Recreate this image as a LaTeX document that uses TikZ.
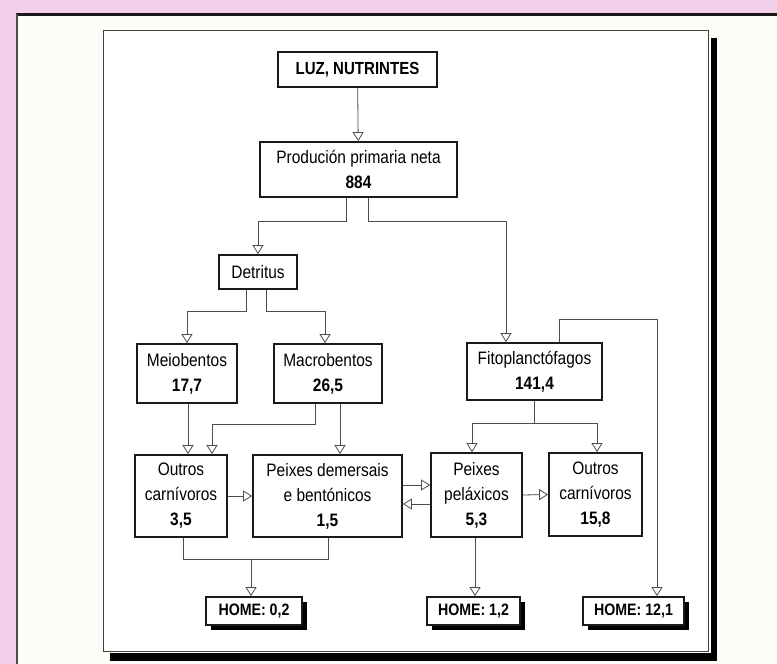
\documentclass[tikz,border=0pt]{standalone}
\usepackage{fontspec}
\setmainfont{Liberation Sans}[FakeStretch=0.86]
\usetikzlibrary{arrows.meta,calc,shadows}
\definecolor{pinkbg}{HTML}{F2D0EA}
\definecolor{paper}{HTML}{FDFDF7}
\definecolor{ink}{HTML}{1A1A1A}
\begin{document}
\begin{tikzpicture}[x=1pt,y=-1pt,
  box/.style={draw=ink, line width=1.8pt, fill=white, inner sep=0pt, align=center,
     font=\fontsize{18}{25}\selectfont},
  homebox/.style={box, minimum height=28pt, font=\bfseries\fontsize{16.5}{18}\selectfont,
     drop shadow={shadow xshift=5pt, shadow yshift=-5pt, fill=black, opacity=1}},
  link/.style={draw=black!70, line width=0.8pt},
  arr/.style={link, -{Triangle[open, length=9pt, width=11pt]}}
]
\useasboundingbox (0,0) rectangle (777,664);
% background and frames
\fill[pinkbg] (0,0) rectangle (777,664);
\fill[paper] (16,13) rectangle (777,664);
\draw[ink, line width=3pt] (16,14) -- (777,14);
\draw[black!70, line width=1.5pt] (17,14) -- (17,664);
\fill[black] (711,38) rectangle (717,661);
\fill[black] (110,653) rectangle (717,661);
\draw[black!75, line width=1pt, fill=white] (103,30) rectangle (708,651);

% nodes
\node[box, minimum width=159pt, minimum height=35pt, font=\bfseries\fontsize{17.5}{18}\selectfont] (luz) at (357.5,69.5) {LUZ, NUTRINTES};
\node[box, minimum width=197pt, minimum height=55pt] (prod) at (358.5,169.5) {Produción primaria neta\\\textbf{884}};
\node[box, minimum width=78pt, minimum height=34pt] (det) at (258,272) {Detritus};
\node[box, minimum width=100pt, minimum height=59pt] (meio) at (187,373.5) {Meiobentos\\\textbf{17,7}};
\node[box, minimum width=108pt, minimum height=59pt] (macro) at (328,373.5) {Macrobentos\\\textbf{26,5}};
\node[box, minimum width=135pt, minimum height=57pt] (fito) at (534.5,371.5) {Fitoplanctófagos\\\textbf{141,4}};
\node[box, minimum width=92pt, minimum height=82pt] (o1) at (181,496) {Outros\\carnívoros\\\textbf{3,5}};
\node[box, minimum width=149pt, minimum height=82pt] (pd) at (327.5,496) {Peixes demersais\\e bentónicos\\\textbf{1,5}};
\node[box, minimum width=91pt, minimum height=84pt] (pel) at (476.5,495) {Peixes\\peláxicos\\\textbf{5,3}};
\node[box, minimum width=93pt, minimum height=83pt] (o2) at (595.5,494.5) {Outros\\carnívoros\\\textbf{15,8}};
\node[homebox, minimum width=96pt] (h1) at (254,611) {HOME: 0,2};
\node[homebox, minimum width=93pt] (h2) at (473.5,611) {HOME: 1,2};
\node[homebox, minimum width=101pt] (h3) at (633.5,611) {HOME: 12,1};

% connectors
\draw[arr] (luz) -- (prod);
\draw[arr] ([xshift=-12.5pt]prod.south) -- ++(0,23) -| (det.north);
\draw[arr] ([xshift=9.5pt]prod.south) -- ++(0,23) -| ([xshift=-28.5pt]fito.north);
\draw[arr] ([xshift=-12pt]det.south) -- ++(0,21) -| (meio.north);
\draw[arr] ([xshift=8pt]det.south) -- ++(0,21) -| ([xshift=-3pt]macro.north);
\draw[arr] ([xshift=7pt]o1.north |- meio.south) -- ([xshift=7pt]o1.north);
\draw[arr] ([xshift=-13pt]macro.south) -- ++(0,20) -| ([xshift=31pt]o1.north);
\draw[arr] ([xshift=12.5pt]pd.north |- macro.south) -- ([xshift=12.5pt]pd.north);
\draw[arr] (o1.east) -- (pd.west);
\draw[arr] ([yshift=11pt]pd.east) -- ([yshift=11pt]pd.east -| pel.west);
\draw[arr] ([yshift=-8pt]pd.east -| pel.west) -- ([yshift=-8pt]pd.east);
\draw[arr] (pel.east) -- (o2.west);
\coordinate (fj) at ($(fito.south)+(0,22)$);
\draw[link] (fito.south) -- (fj);
\draw[arr] (fj) -| ([xshift=-4.5pt]pel.north);
\draw[arr] (fj) -| ([xshift=1.5pt]o2.north);
\draw[arr] ([xshift=24.5pt]fito.north) -- ++(0,-23) -| ([xshift=23.5pt]h3.north);
\coordinate (bj) at ($(o1.south)+(2,21)$);
\draw[link] ([xshift=2pt]o1.south) -- (bj) -| ([xshift=0.5pt]pd.south);
\draw[arr] ([xshift=-3pt]h1.north |- bj) -- ([xshift=-3pt]h1.north);
\draw[arr] ([xshift=1.5pt]h2.north |- pel.south) -- ([xshift=1.5pt]h2.north);
\end{tikzpicture}
\end{document}
